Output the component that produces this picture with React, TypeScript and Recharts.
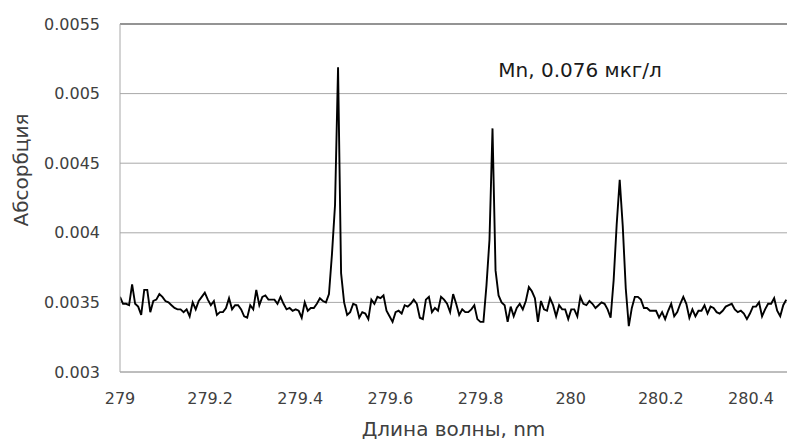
import React from 'react';
import { LineChart, Line, XAxis, YAxis, CartesianGrid, ReferenceLine, ReferenceDot, Label } from 'recharts';

// Wavelength sampling grid of the spectrometer
const startNm = 279;
const stepNm = 0.00672;

// Absorbance readings (one per sampling step)
const absorbance: number[] = [
  0.00354, 0.00349, 0.00349, 0.00348, 0.00363, 0.00349, 0.00347, 0.00341, 0.00359, 0.00359,
  0.00343, 0.00351, 0.00352, 0.00356, 0.00354, 0.00351, 0.00350, 0.00348, 0.00346, 0.00345,
  0.00345, 0.00343, 0.00345, 0.00340, 0.00350, 0.00345, 0.00351, 0.00354, 0.00357, 0.00352,
  0.00348, 0.00351, 0.00341, 0.00343, 0.00343, 0.00346, 0.00353, 0.00345, 0.00348, 0.00348,
  0.00345, 0.00340, 0.00339, 0.00348, 0.00345, 0.00359, 0.00348, 0.00354, 0.00355, 0.00352,
  0.00352, 0.00352, 0.00349, 0.00354, 0.00349, 0.00345, 0.00346, 0.00344, 0.00345, 0.00344,
  0.00339, 0.00350, 0.00344, 0.00346, 0.00346, 0.00349, 0.00353, 0.00351, 0.00350, 0.00356,
  0.00385, 0.00420, 0.00519, 0.00371, 0.00350, 0.00341, 0.00343, 0.00349, 0.00348, 0.00339,
  0.00343, 0.00342, 0.00338, 0.00352, 0.00349, 0.00354, 0.00353, 0.00355, 0.00344, 0.00340,
  0.00336, 0.00343, 0.00344, 0.00342, 0.00348, 0.00347, 0.00349, 0.00352, 0.00349, 0.00339,
  0.00338, 0.00352, 0.00354, 0.00343, 0.00346, 0.00344, 0.00354, 0.00352, 0.00349, 0.00343,
  0.00356, 0.00349, 0.00341, 0.00345, 0.00343, 0.00343, 0.00345, 0.00348, 0.00338, 0.00336,
  0.00336, 0.00362, 0.00395, 0.00475, 0.00373, 0.00355, 0.00350, 0.00348, 0.00336, 0.00347,
  0.00340, 0.00346, 0.00349, 0.00345, 0.00351, 0.00361, 0.00358, 0.00353, 0.00336, 0.00351,
  0.00345, 0.00344, 0.00353, 0.00348, 0.00340, 0.00348, 0.00345, 0.00345, 0.00338, 0.00345,
  0.00345, 0.00340, 0.00354, 0.00349, 0.00348, 0.00351, 0.00349, 0.00346, 0.00348, 0.00350,
  0.00349, 0.00345, 0.00339, 0.00366, 0.00406, 0.00438, 0.00405, 0.00360, 0.00333, 0.00346,
  0.00354, 0.00354, 0.00352, 0.00346, 0.00346, 0.00344, 0.00344, 0.00344, 0.00339, 0.00343,
  0.00338, 0.00344, 0.00349, 0.00340, 0.00343, 0.00349, 0.00354, 0.00349, 0.00339, 0.00345,
  0.00340, 0.00344, 0.00344, 0.00348, 0.00342, 0.00347, 0.00346, 0.00343, 0.00342, 0.00344,
  0.00347, 0.00348, 0.00349, 0.00345, 0.00343, 0.00344, 0.00342, 0.00338, 0.00342, 0.00347,
  0.00347, 0.00350, 0.00340, 0.00345, 0.00349, 0.00349, 0.00353, 0.00344, 0.00340, 0.00348,
  0.00352,
];

const xTicks = [279, 279.2, 279.4, 279.6, 279.8, 280, 280.2, 280.4];
const yTicks = [0.003, 0.0035, 0.004, 0.0045, 0.005, 0.0055];
const xDomain: [number, number] = [279, 280.48];
const yDomain: [number, number] = [0.003, 0.0055];

const xTitle = 'Длина волны, nm';
const yTitle = 'Абсорбция';
const noteText = 'Mn, 0.076 мкг/л';
const notePos = { x: 279.8395, y: 0.005119 };

const data = absorbance.map((a, i) => ({ nm: +(startNm + i * stepNm).toFixed(5), a }));

const FONT = '"DejaVu Sans", Verdana, sans-serif';

export default function App() {
  return (
    <div style={{ position: 'absolute', left: 0, top: 0, width: 787, height: 442, background: '#fff' }}>
      <LineChart width={787} height={442} data={data} margin={{ top: 24, right: 0, bottom: 0, left: 0 }}>
        <CartesianGrid vertical={false} stroke="#a8a8a8" strokeWidth={1} />
        <XAxis
          dataKey="nm"
          type="number"
          domain={xDomain}
          ticks={xTicks}
          interval={0}
          allowDataOverflow
          height={70}
          tickLine={false}
          tickMargin={15}
          stroke="#a8a8a8"
          tick={{ fill: '#404040', fontSize: 16, fontFamily: FONT }}
        >
          <Label
            value={xTitle}
            position="insideBottom"
            offset={6}
            style={{ fill: '#404040', fontSize: 20, fontFamily: FONT }}
          />
        </XAxis>
        <YAxis
          type="number"
          domain={yDomain}
          ticks={yTicks}
          interval={0}
          allowDataOverflow
          width={120}
          tickLine={false}
          tickMargin={14}
          stroke="#a8a8a8"
          tick={{ fill: '#404040', fontSize: 16, fontFamily: FONT }}
        >
          <Label
            content={() => (
              <text
                x={27.5}
                y={170}
                transform="rotate(-90 27.5 170)"
                textAnchor="middle"
                fill="#404040"
                fontSize={20}
                fontFamily={FONT}
              >
                {yTitle}
              </text>
            )}
          />
        </YAxis>
        <ReferenceLine y={0.0055} stroke="#7f7f7f" strokeWidth={1.5} />
        <Line
          type="linear"
          dataKey="a"
          stroke="#000"
          strokeWidth={1.9}
          dot={false}
          isAnimationActive={false}
        />
        <ReferenceDot
          x={notePos.x}
          y={notePos.y}
          r={0}
          stroke="none"
          fill="none"
          label={(props: any) => {
            const vb = props.viewBox || {};
            const cx = vb.x + (vb.width || 0) / 2;
            const cy = vb.y + (vb.height || 0) / 2;
            return (
              <text x={cx} y={cy} textAnchor="start" fill="#1a1a1a" fontSize={20} fontFamily={FONT}>
                {noteText}
              </text>
            );
          }}
        />
      </LineChart>
    </div>
  );
}
